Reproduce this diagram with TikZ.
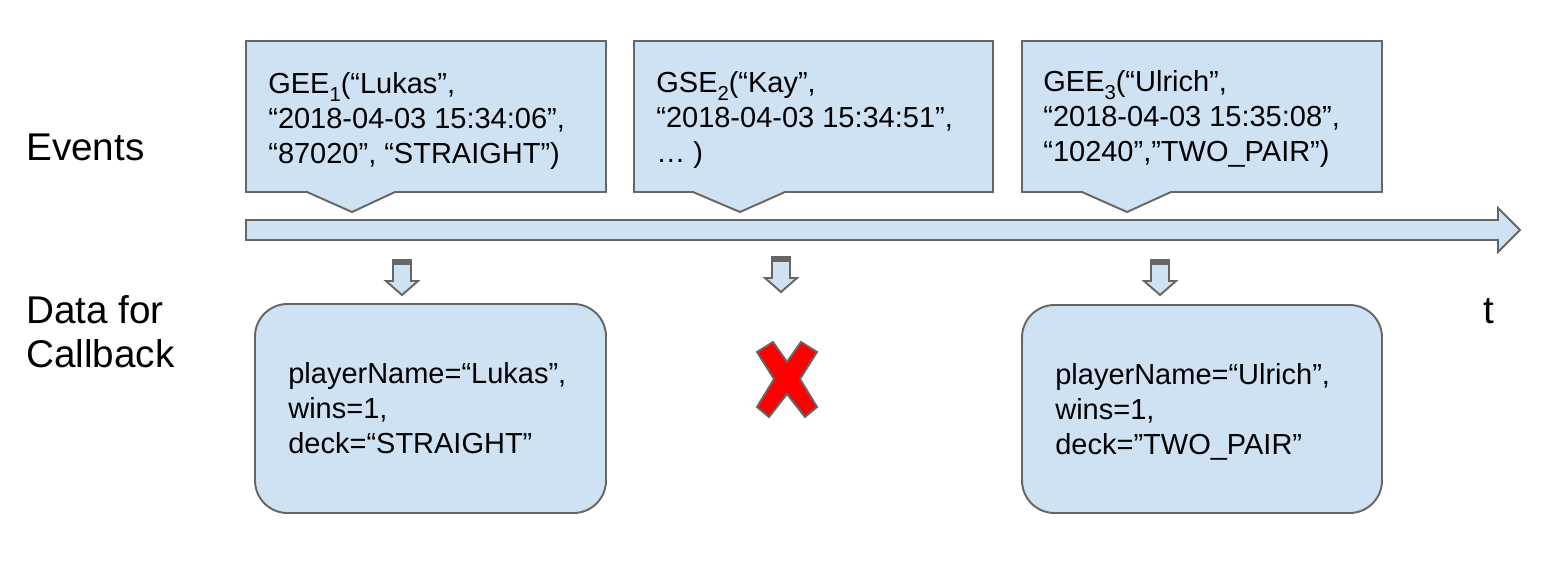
\documentclass[tikz,border=0pt]{standalone}
\usepackage{fontspec}
\setmainfont{Liberation Sans}
\usetikzlibrary{positioning}

\definecolor{lightblue}{HTML}{CFE2F3}
\definecolor{edgegray}{HTML}{666666}
\definecolor{crossred}{HTML}{FF0000}

\newcommand{\evsub}[1]{\raisebox{-0.55ex}{\fontsize{11.5}{11.5}\selectfont #1}}

\tikzset{
  blueshape/.style={fill=lightblue, draw=edgegray, line width=1.1pt},
  boxtext/.style={anchor=base west, align=left, inner sep=0pt, font=\fontsize{16.5}{19.8}\selectfont},
  sidetext/.style={anchor=base west, align=left, inner sep=0pt, font=\fontsize{22}{25}\selectfont}
}

\begin{document}
\begin{tikzpicture}[x=0.02cm, y=-0.02cm]

\useasboundingbox (0,0) rectangle (1564,562);

% draw time line
\draw [blueshape] (246,220) -- (1498,220) -- (1498,208) -- (1520,230) -- (1498,252) -- (1498,240) -- (246,240) -- cycle;

% draw event boxes with pointers
\draw [blueshape] (246,41) -- (606,41) -- (606,192) -- (395,192) -- (352,212) -- (307,192) -- (246,192) -- cycle;
\draw [blueshape] (634,41) -- (993,41) -- (993,192) -- (785,192) -- (740,212) -- (693,192) -- (634,192) -- cycle;
\draw [blueshape] (1022,41) -- (1382,41) -- (1382,192) -- (1171,192) -- (1127,212) -- (1082,192) -- (1022,192) -- cycle;

% event texts (placed at the baseline of the last line)
\node [boxtext] (gee1) at (268,163) {GEE\evsub{1}(“Lukas”,\\“2018-04-03 15:34:06”,\\“87020”, “STRAIGHT”)};
\node [boxtext] (gse2) at (656,162) {GSE\evsub{2}(“Kay”,\\“2018-04-03 15:34:51”,\\… )};
\node [boxtext] (gee3) at (1043,161) {GEE\evsub{3}(“Ulrich”,\\“2018-04-03 15:35:08”,\\“10240”,”TWO\_PAIR”)};

% small down arrows
\foreach \x/\y in {402/260, 781/257, 1160/260} {
  \draw [blueshape] (\x-9,\y) -- (\x+9,\y) -- (\x+9,\y+21) -- (\x+16,\y+21) -- (\x,\y+35) -- (\x-16,\y+21) -- (\x-9,\y+21) -- cycle;
  \fill [edgegray] (\x-9.5,\y-0.5) rectangle (\x+9.5,\y+5);
}

% callback data boxes
\draw [blueshape, rounded corners=0.65cm] (255,304) rectangle (606,513);
\draw [blueshape, rounded corners=0.65cm] (1022,305) rectangle (1382,513);
\node [boxtext] (data1) at (288,453) {playerName=“Lukas”,\\wins=1,\\deck=“STRAIGHT”};
\node [boxtext] (data3) at (1055,454) {playerName=“Ulrich”,\\wins=1,\\deck=”TWO\_PAIR”};

% red cross for the skipped event
\draw [fill=crossred, draw=edgegray, line width=1.1pt] (757,352) -- (773,342) -- (787,362) -- (801,342) -- (817,352) -- (800,379) -- (817,407) -- (805,417) -- (787,394) -- (769,417) -- (757,407) -- (774,379) -- cycle;

% side labels
\node [sidetext] (events) at (26,160) {Events};
\node [sidetext] (callback) at (26,367) {Data for\\Callback};
\node [sidetext] (time) at (1483,323) {t};

\end{tikzpicture}
\end{document}
